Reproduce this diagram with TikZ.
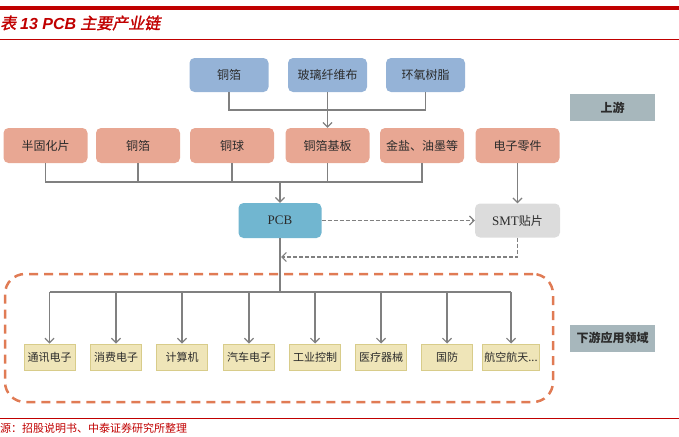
\documentclass[tikz,border=0pt]{standalone}
\usepackage{fontspec}
\setmainfont{Liberation Serif}
\newfontfamily\cjk{Noto Sans CJK SC}
\newfontfamily\cjktitle{Noto Sans CJK SC}[FakeSlant=0.2,FakeBold=1.5]
\newfontfamily\lattitle{Liberation Sans}
\usetikzlibrary{arrows.meta}
\definecolor{bluefill}{HTML}{95B3D7}
\definecolor{salmon}{HTML}{E8A793}
\definecolor{pcbfill}{HTML}{71B6D0}
\definecolor{smtfill}{HTML}{DCDCDC}
\definecolor{tagfill}{HTML}{A7B7BC}
\definecolor{appfill}{HTML}{EFE5B8}
\definecolor{appdraw}{HTML}{D8CC8A}
\definecolor{frameorange}{HTML}{E07B54}
\definecolor{darkred}{HTML}{C00000}
\definecolor{linegray}{HTML}{808080}
\definecolor{txt}{HTML}{2B2B2B}
\tikzset{
  box/.style={rounded corners=5pt, minimum height=34pt, inner sep=0pt, text=txt,
    font=\cjk\fontsize{12}{14}\selectfont},
  bluebox/.style={box, fill=bluefill, minimum width=79pt},
  salmonbox/.style={box, fill=salmon, minimum width=84pt, minimum height=35pt},
  pcbbox/.style={box, fill=pcbfill, minimum width=83pt, minimum height=35pt,
    font=\rmfamily\fontsize{13}{15}\selectfont},
  smtbox/.style={box, fill=smtfill, minimum width=85pt, minimum height=34pt,
    font=\rmfamily\fontsize{13}{15}\selectfont},
  tagbox/.style={fill=tagfill, minimum width=85pt, minimum height=27pt, inner sep=0pt,
    text=txt, font=\cjk\bfseries\fontsize{12}{14}\selectfont},
  appbox/.style={fill=appfill, draw=appdraw, line width=1pt, minimum width=51pt,
    minimum height=26pt, inner sep=0pt, text=txt, font=\cjk\fontsize{11}{13}\selectfont},
  conn/.style={draw=linegray, line width=1.2pt},
  connarrow/.style={conn, -{Straight Barb[length=4.5pt,width=9pt,line width=1.2pt]}},
  dasharrow/.style={connarrow, dash pattern=on 4pt off 2pt},
  frame/.style={draw=frameorange, line width=2.5pt, dash pattern=on 9pt off 6pt,
    rounded corners=20pt, minimum width=548pt, minimum height=128pt, inner sep=0pt},
}
\begin{document}
\begin{tikzpicture}[x=1pt,y=-1pt]
\useasboundingbox (0,0) rectangle (679,436);
% header / footer
\draw[darkred, line width=3.5pt] (0,8) -- (679,8);
\draw[darkred, line width=1pt] (0,40) -- (679,40);
\node[anchor=west, inner sep=0pt, text=darkred] (title) at (0,23)
  {{\cjktitle\fontsize{16}{18}\selectfont 表}\hspace{4pt}{\lattitle\bfseries\itshape\fontsize{16}{18}\selectfont 13 PCB}\hspace{4pt}{\cjktitle\fontsize{16}{18}\selectfont 主要产业链}};
\draw[darkred, line width=1pt] (0,418) -- (679,418);
\node[anchor=west, inner sep=0pt, text=darkred, font=\cjk\fontsize{11}{13}\selectfont] (src) at (0,428.5)
  {源：招股说明书、中泰证券研究所整理};
% top row
\node[bluebox] (b1) at (229,75) {铜箔};
\node[bluebox] (b2) at (327.5,75) {玻璃纤维布};
\node[bluebox] (b3) at (425.5,75) {环氧树脂};
% second row
\node[salmonbox] (u1) at (45.5,145.5) {半固化片};
\node[salmonbox] (u2) at (138,145.5) {铜箔};
\node[salmonbox] (u3) at (232,145.5) {铜球};
\node[salmonbox] (u4) at (327.5,145.5) {铜箔基板};
\node[salmonbox] (u5) at (422,145.5) {金盐、油墨等};
\node[salmonbox] (u6) at (517.5,145.5) {电子零件};
% middle
\node[pcbbox] (pcb) at (280,220.5) {PCB};
\node[smtbox] (smt) at (517.5,220.5) {SMT{\cjk\fontsize{12}{14}\selectfont 贴片}};
% tags
\node[tagbox] (up) at (612.5,107.5) {上游};
\node[tagbox] (down) at (612.5,338) {下游应用领域};
% frame
\node[frame] (frm) at (279,338) {};
% downstream
\node[appbox] (d1) at (49.5,357) {通讯电子};
\node[appbox] (d2) at (116,357) {消费电子};
\node[appbox] (d3) at (182,357) {计算机};
\node[appbox] (d4) at (249,357) {汽车电子};
\node[appbox] (d5) at (315,357) {工业控制};
\node[appbox] (d6) at (381,357) {医疗器械};
\node[appbox] (d7) at (447,357) {国防};
\node[appbox, minimum width=57pt] (d8) at (511,357) {航空航天...};
% connectors top
\coordinate (j1) at (327.5,110);
\draw[conn] (b1.south) |- (j1) -| (b3.south);
\draw[connarrow] (b2.south) -- (u4.north);
% connectors row 2
\coordinate (j2) at (280,182);
\draw[conn] (u1.south) |- (j2) -| (u5.south);
\draw[conn] (u2.south) -- (u2.south |- j2);
\draw[conn] (u3.south) -- (u3.south |- j2);
\draw[conn] (u4.south) -- (u4.south |- j2);
\draw[connarrow] (j2) -- (pcb.north);
\draw[connarrow] (u6.south) -- (smt.north);
\draw[dasharrow] (pcb.east) -- (smt.west);
\coordinate (j3) at (281,257);
\draw[dasharrow] (smt.south) |- (j3);
% downstream connectors
\coordinate (j4) at (280,292);
\draw[conn] (pcb.south) -- (j4);
\draw[conn] (d1.north |- j4) -- (d8.north |- j4);
\foreach \i in {1,...,8} {
  \draw[connarrow] (d\i.north |- j4) -- (d\i.north);
}
\end{tikzpicture}
\end{document}
